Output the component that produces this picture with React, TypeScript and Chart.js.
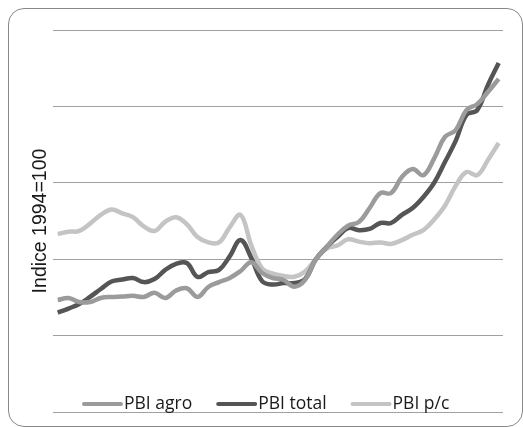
import React, { useEffect, useRef } from "react";
import { Chart, registerables } from "chart.js";

Chart.register(...registerables);

const years: number[] = Array.from({ length: 42 }, (_, i) => 1970 + i);

const seriesLabels = ["PBI agro", "PBI total", "PBI p/c"];

const pbiAgro: number[] = [
  73.3, 74.6, 72, 72, 74.6, 75.3, 75.6, 76, 75.3, 78, 74.6, 79.5, 81, 75.3, 81.8,
  85, 87.7, 92.3, 98, 91, 87.7, 86.4, 82, 86.4, 100, 108, 116, 122, 124.3, 133.5,
  143.3, 143.3, 153.8, 159, 155, 166, 180, 184.5, 197.6, 201.5, 209.4, 218,
];

const pbiTotal: number[] = [
  65, 67.7, 70.7, 75.3, 80.5, 85.4, 86.7, 87.7, 85, 87, 93, 96.9, 97.5, 88.4, 91.6,
  93, 102, 112.6, 100.8, 85.7, 83.4, 84.4, 84.4, 87, 100, 108, 114.5, 120.4, 119,
  119.8, 123.7, 123.7, 129, 133.5, 140.7, 150, 163.6, 177.4, 194.4, 197.6, 214, 228.4,
];

const pbiPc: number[] = [
  116.5, 118, 118.5, 123.3, 129, 132.5, 130, 127.5, 121.5, 118.5, 124.5, 127.5, 123,
  114.5, 111, 111, 121, 129, 109, 94, 90.5, 89, 88.5, 92, 100, 107, 109, 113, 111.5,
  110.5, 111, 110, 112.5, 116, 119, 126, 135, 148, 157, 155, 165, 176,
];

const yTicks: number[] = [0, 50, 100, 150, 200, 250];
const yTitle = "Indice 1994=100";

const colors = ["#9b9b9b", "#555555", "#c4c4c4"];

const legendPlugin = {
  id: "insideLegend",
  afterDraw(chart: any) {
    const ctx = chart.ctx;
    const sets = chart.data.datasets;
    ctx.save();
    ctx.font = "17.5px 'Open Sans'";
    ctx.textBaseline = "middle";
    const y = 404;
    let x = 82;
    sets.forEach((ds: any) => {
      ctx.strokeStyle = ds.borderColor;
      ctx.lineWidth = 4;
      ctx.lineCap = "round";
      ctx.beginPath();
      ctx.moveTo(x + 2, y);
      ctx.lineTo(x + 39, y);
      ctx.stroke();
      ctx.fillStyle = "#1a1a1a";
      ctx.textAlign = "left";
      ctx.fillText(ds.label, x + 42, y);
      const w = ctx.measureText(ds.label).width;
      x = x + 42 + w + 24;
    });
    ctx.restore();
  },
};

export default function App() {
  const ref = useRef<HTMLCanvasElement | null>(null);
  useEffect(() => {
    if (!ref.current) return;
    const mk = (vals: number[]) => years.map((yr, i) => ({ x: yr, y: vals[i] }));
    const chart = new Chart(ref.current, {
      type: "line",
      data: {
        datasets: [
          { label: seriesLabels[0], data: mk(pbiAgro), borderColor: colors[0] },
          { label: seriesLabels[1], data: mk(pbiTotal), borderColor: colors[1] },
          { label: seriesLabels[2], data: mk(pbiPc), borderColor: colors[2] },
        ].map((d) => ({
          ...d,
          borderWidth: 4.5,
          pointRadius: 0,
          tension: 0.4,
          fill: false,
        })),
      },
      options: {
        responsive: false,
        animation: false,
        layout: { padding: { left: 27, right: 20, top: 30, bottom: 15 } },
        plugins: { legend: { display: false }, tooltip: { enabled: false } },
        scales: {
          x: {
            type: "linear",
            display: false,
            min: years[0] - 0.4,
            max: years[years.length - 1] + 0.4,
          },
          y: {
            min: yTicks[0],
            max: yTicks[yTicks.length - 1],
            afterBuildTicks: (s: any) => {
              s.ticks = yTicks.map((v) => ({ value: v }));
            },
            ticks: { display: false },
            border: { display: false },
            grid: { color: "#a0a0a0", lineWidth: 1, drawTicks: false },
            title: {
              display: true,
              text: yTitle,
              color: "#1a1a1a",
              font: { family: "'Liberation Sans', Arial", size: 19.5, lineHeight: 1.15 },
              padding: { top: 2, bottom: 2 },
            },
          },
        },
      },
      plugins: [legendPlugin],
    });
    return () => chart.destroy();
  }, []);
  return (
    <div style={{ position: "fixed", left: 0, top: 0, width: 523, height: 427, overflow: "hidden", background: "#fff" }}>
      <div
        style={{
          position: "absolute",
          left: 8,
          top: 8,
          width: 515,
          height: 419,
          boxSizing: "border-box",
          border: "1px solid #888",
          borderRadius: 16,
        }}
      />
      <canvas ref={ref} width={523} height={427} style={{ position: "absolute", left: 0, top: 0 }} />
    </div>
  );
}
